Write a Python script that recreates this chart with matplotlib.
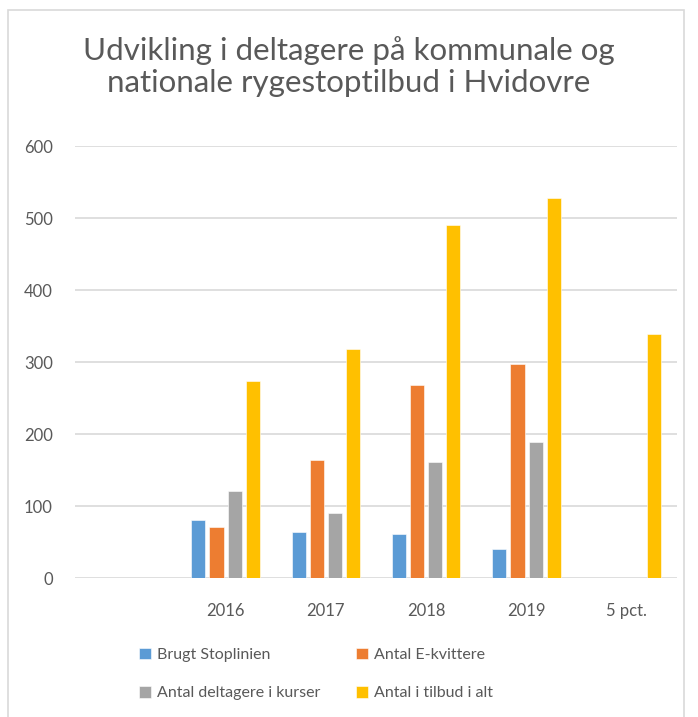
import numpy as np
import matplotlib
matplotlib.use("Agg")
import matplotlib.pyplot as plt
from matplotlib.patches import Rectangle

plt.rcParams['font.family'] = ['Lato', 'DejaVu Sans']

# data
kategorier = ["", "2016", "2017", "2018", "2019", "5 pct."]
brugt_stoplinien = [np.nan, 81, 65, 61, 41, np.nan]
e_kvittere = [np.nan, 71, 164, 269, 297, np.nan]
deltagere_kurser = [np.nan, 121, 91, 161, 189, np.nan]
tilbud_i_alt = [np.nan, 274, 319, 491, 528, 339]

serier = [
    ("Brugt Stoplinien", brugt_stoplinien, "#5B9BD5"),
    ("Antal E-kvittere", e_kvittere, "#ED7D31"),
    ("Antal deltagere i kurser", deltagere_kurser, "#A5A5A5"),
    ("Antal i tilbud i alt", tilbud_i_alt, "#FFC000"),
]

fig = plt.figure(figsize=(6.98, 7.17), dpi=100)
ax = fig.add_axes([0.1075, 0.1934, 0.8625, 0.6026])

# light frame round the chart
fig.patches.append(Rectangle((8 / 698, -0.01), 676 / 698, 1 - 10 / 717 + 0.01,
                             transform=fig.transFigure, fill=False,
                             edgecolor="#d9d9d9", linewidth=1.2))

x = np.arange(len(kategorier))
bredde = 0.14
trin = 0.18
handles = {}
for i, (navn, vaerdier, farve) in enumerate(serier):
    b = ax.bar(x + (i - 1.5) * trin, vaerdier, width=bredde, color=farve,
               edgecolor="white", linewidth=0.4, label=navn, zorder=3)
    handles[navn] = b

ax.set_xlim(-0.5, len(kategorier) - 0.5)
ax.set_ylim(0, 600)
ax.set_yticks(range(0, 601, 100))
ax.set_xticks(x)
ax.set_xticklabels(kategorier)
ax.yaxis.grid(True, color="#d9d9d9", linewidth=1.2, zorder=0)
ax.set_axisbelow(True)
for s in ax.spines.values():
    s.set_visible(False)
ax.tick_params(axis="both", length=0, labelsize=12, colors="#595959")
ax.tick_params(axis="y", pad=16)
ax.tick_params(axis="x", pad=18)

fig.text(0.5, 0.907, "Udvikling i deltagere på kommunale og\nnationale rygestoptilbud i Hvidovre",
         ha="center", va="center", fontsize=22.5, color="#595959", linespacing=1.2)

orden = ["Brugt Stoplinien", "Antal deltagere i kurser", "Antal E-kvittere", "Antal i tilbud i alt"]
leg = fig.legend([handles[n] for n in orden], orden, ncol=2, loc="center left",
                 bbox_to_anchor=(139 / 698, 0.06), frameon=False, fontsize=11.5,
                 handlelength=0.75, handleheight=0.75, handletextpad=0.4,
                 columnspacing=2.2, labelspacing=1.5, borderpad=0, borderaxespad=0)
for t in leg.get_texts():
    t.set_color("#595959")

fig.savefig("out.png", dpi=100, facecolor="white")
